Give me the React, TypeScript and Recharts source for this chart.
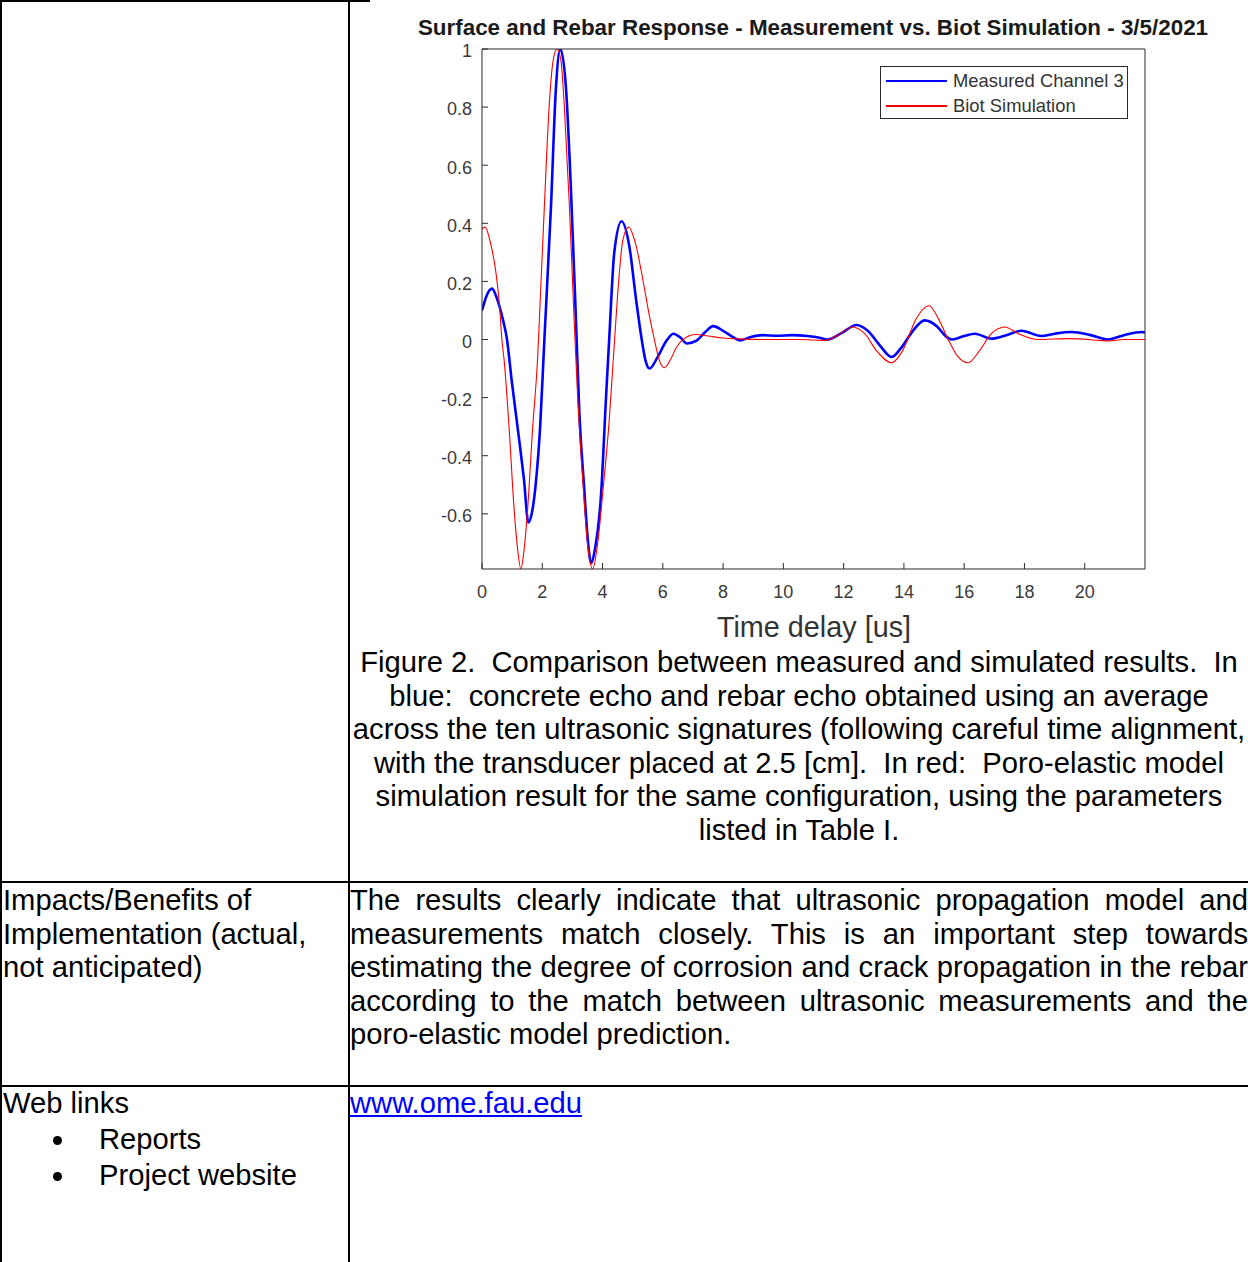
import React from "react";
import { LineChart, Line, XAxis, YAxis, Legend } from "recharts";

// values (time in us, normalised amplitude)
const measuredT = [
  0, 0.15, 0.33, 0.5, 0.69, 0.83, 0.98, 1.26, 1.39, 1.54, 1.65, 1.79, 1.93, 2.07, 2.29, 2.45,
  2.6, 2.79, 2.95, 3.12, 3.23, 3.39, 3.52, 3.62, 3.75, 3.95, 4.12, 4.22, 4.39, 4.63, 4.89, 5.11,
  5.3, 5.42, 5.56, 5.83, 6.1, 6.35, 6.6, 6.8, 7.1, 7.4, 7.67, 8.0, 8.3, 8.56, 8.9, 9.3, 9.8, 10.3,
  10.8, 11.2, 11.45, 11.9, 12.43, 12.8, 13.2, 13.59, 13.9, 14.3, 14.69, 15.1, 15.4, 15.6, 16.0,
  16.35, 16.9, 17.4, 17.9, 18.56, 19.0, 19.56, 20.2, 20.77, 21.3, 21.9, 22,
];
const measuredV = [
  0.1, 0.15, 0.175, 0.14, 0.07, 0.0, -0.137, -0.367, -0.48, -0.63, -0.6, -0.49, -0.3, 0.0, 0.46,
  0.86, 1.0, 0.86, 0.52, 0.06, -0.25, -0.51, -0.7, -0.77, -0.72, -0.535, -0.19, 0.0, 0.3, 0.407,
  0.32, 0.14, 0.0, -0.07, -0.1, -0.06, -0.008, 0.02, 0.005, -0.014, -0.005, 0.025, 0.046, 0.03,
  0.01, -0.003, 0.008, 0.015, 0.013, 0.015, 0.012, 0.006, 0.0, 0.02, 0.05, 0.03, -0.02, -0.06,
  -0.03, 0.03, 0.066, 0.045, 0.01, 0.0, 0.012, 0.02, 0.003, 0.015, 0.03, 0.012, 0.02, 0.026, 0.015,
  0.0, 0.015, 0.026, 0.024,
];

const simT = [
  0, 0.1, 0.3, 0.46, 0.58, 0.66, 0.74, 0.9, 1.07, 1.18, 1.29, 1.4, 1.51, 1.68, 1.85, 1.9, 2.07, 2.23,
  2.36, 2.49, 2.62, 2.73, 2.9, 3.06, 3.17, 3.34, 3.5, 3.67, 3.84, 4.0, 4.22, 4.4, 4.55, 4.67, 4.86,
  5.11, 5.33, 5.55, 5.72, 5.88, 6.05, 6.25, 6.43, 6.71, 7.1, 7.5, 8.0, 8.5, 9.5, 10.5, 11.4, 11.8,
  12.3, 12.7, 13.1, 13.59, 13.95, 14.4, 14.83, 15.2, 15.47, 15.8, 16.13, 16.5, 16.9, 17.35, 17.8,
  18.45, 19.5, 20.5, 20.8, 21.3, 22,
];
const simV = [
  0.38, 0.387, 0.324, 0.232, 0.118, 0.0, -0.077, -0.306, -0.59, -0.72, -0.79, -0.72, -0.59, -0.306,
  -0.054, 0.06, 0.46, 0.805, 0.96, 1.0, 0.96, 0.805, 0.46, 0.06, -0.19, -0.48, -0.7, -0.79, -0.7,
  -0.535, -0.28, 0.0, 0.22, 0.34, 0.387, 0.324, 0.21, 0.084, 0.0, -0.07, -0.097, -0.07, -0.031,
  0.003, 0.017, 0.012, 0.005, 0.002, 0.0, 0.0, -0.003, 0.015, 0.043, 0.02, -0.04, -0.08, -0.04,
  0.07, 0.116, 0.06, 0.0, -0.06, -0.08, -0.04, 0.02, 0.043, 0.02, 0.0, 0.003, -0.003, -0.005, 0.0,
  0.0,
];

const xTicks = [0, 2, 4, 6, 8, 10, 12, 14, 16, 18, 20];
const yTicks = [-0.6, -0.4, -0.2, 0, 0.2, 0.4, 0.6, 0.8, 1];

const seriesNames = ["Measured Channel 3", "Biot Simulation"];
const seriesColors = ["#0000ff", "#ff0000"];

const measured = measuredT.map((t, i) => ({ t, v: measuredV[i] }));
const simulated = simT.map((t, i) => ({ t, v: simV[i] }));

const FONT = '"Liberation Sans", Arial, Helvetica, sans-serif';
const AX = "#2b2b2b";

function LegendBox() {
  return (
    <div
      style={{
        width: 246,
        height: 51,
        border: `1px solid ${AX}`,
        background: "#fff",
        fontFamily: FONT,
        fontSize: 18.4,
        color: "#333",
        position: "relative",
      }}
    >
      {seriesNames.map((n, i) => (
        <div key={n} style={{ position: "absolute", left: 5, top: 3 + i * 25, display: "flex", alignItems: "center", height: 22 }}>
          <div style={{ width: 61, height: 1.5, background: seriesColors[i], marginRight: 6 }} />
          <span style={{ whiteSpace: "nowrap" }}>{n}</span>
        </div>
      ))}
    </div>
  );
}

function Chart() {
  return (
    <div style={{ position: "absolute", left: 400, top: 0, width: 800, height: 650 }}>
      <LineChart width={800} height={650} margin={{ top: 48, right: 54, bottom: 0, left: 0 }}>
        <XAxis
          dataKey="t"
          type="number"
          domain={[0, 22]}
          ticks={xTicks}
          allowDataOverflow
          height={81}
          tickSize={-6}
          tickMargin={22}
          stroke={AX}
          tick={{ fill: "#3a3a3a", fontSize: 18, fontFamily: FONT }}
        />
        <XAxis
          xAxisId="top"
          orientation="top"
          dataKey="t"
          type="number"
          domain={[0, 22]}
          ticks={xTicks}
          allowDataOverflow
          height={1}
          tickSize={-6}
          tick={false}
          stroke={AX}
        />
        <YAxis
          type="number"
          domain={[-0.79, 1]}
          ticks={yTicks}
          allowDataOverflow
          width={82}
          tickSize={-6}
          tickMargin={16}
          stroke={AX}
          tick={{ fill: "#3a3a3a", fontSize: 18, fontFamily: FONT, dy: 2 }}
        />
        <YAxis
          yAxisId="right"
          orientation="right"
          type="number"
          domain={[-0.79, 1]}
          ticks={yTicks}
          allowDataOverflow
          width={1}
          tickSize={-6}
          tick={false}
          stroke={AX}
        />
        <Legend
          layout="horizontal"
          verticalAlign="middle"
          align="center"
          content={() => <LegendBox />}
          wrapperStyle={{ position: "absolute", left: 480, top: 66, width: 248, height: 53 }}
        />
        <Line
          data={measured}
          dataKey="v"
          name={seriesNames[0]}
          type="monotone"
          stroke={seriesColors[0]}
          strokeWidth={2.6}
          dot={false}
          isAnimationActive={false}
        />
        <Line
          data={simulated}
          dataKey="v"
          name={seriesNames[1]}
          type="monotone"
          stroke={seriesColors[1]}
          strokeWidth={1.1}
          dot={false}
          isAnimationActive={false}
        />
        {/* carries the mirrored top/right axes of the box */}
        <Line
          data={simulated}
          dataKey="v"
          xAxisId="top"
          yAxisId="right"
          stroke="none"
          dot={false}
          legendType="none"
          isAnimationActive={false}
        />
      </LineChart>
      <div
        style={{
          position: "absolute",
          left: 13,
          width: 800,
          top: 15,
          textAlign: "center",
          fontFamily: FONT,
          fontWeight: "bold",
          fontSize: 22.4,
          color: "#1a1a1a",
          whiteSpace: "nowrap",
        }}
      >
        Surface and Rebar Response - Measurement vs. Biot Simulation - 3/5/2021
      </div>
      <div
        style={{
          position: "absolute",
          left: 14,
          width: 800,
          top: 611,
          textAlign: "center",
          fontFamily: FONT,
          fontSize: 28.8,
          color: "#333",
          whiteSpace: "nowrap",
        }}
      >
        Time delay [us]
      </div>
    </div>
  );
}

const captionLines = [
  "Figure 2.  Comparison between measured and simulated results.  In",
  "blue:  concrete echo and rebar echo obtained using an average",
  "across the ten ultrasonic signatures (following careful time alignment,",
  "with the transducer placed at 2.5 [cm].  In red:  Poro-elastic model",
  "simulation result for the same configuration, using the parameters",
  "listed in Table I.",
];

const impactLabel = ["Impacts/Benefits of", "Implementation (actual,", "not anticipated)"];
const impactLines = [
  "The results clearly indicate that ultrasonic propagation model and",
  "measurements match closely.  This is an important step towards",
  "estimating the degree of corrosion and crack propagation in the rebar",
  "according to the match between ultrasonic measurements and the",
  "poro-elastic model prediction.",
];

const txt: React.CSSProperties = {
  fontFamily: FONT,
  fontSize: 29.2,
  lineHeight: "33.6px",
  color: "#000",
};

export default function App() {
  return (
    <div style={{ position: "relative", width: 1248, height: 1262, background: "#fff", overflow: "hidden" }}>
      <style>{"html,body{margin:0;padding:0;}"}</style>
      {/* table rules */}
      <div style={{ position: "absolute", left: 0, top: 0, width: 370, height: 2, background: "#000" }} />
      <div style={{ position: "absolute", left: 0, top: 0, width: 2, height: 1262, background: "#000" }} />
      <div style={{ position: "absolute", left: 348, top: 0, width: 2, height: 1262, background: "#000" }} />
      <div style={{ position: "absolute", left: 0, top: 881, width: 1248, height: 2, background: "#000" }} />
      <div style={{ position: "absolute", left: 0, top: 1085, width: 1248, height: 2, background: "#000" }} />

      <Chart />

      <div style={{ ...txt, position: "absolute", left: 350, top: 646, width: 898, textAlign: "center", whiteSpace: "pre" }}>
        {captionLines.map((l) => (
          <div key={l}>{l}</div>
        ))}
      </div>

      <div style={{ ...txt, position: "absolute", left: 3, top: 884, width: 345 }}>
        {impactLabel.map((l) => (
          <div key={l} style={{ whiteSpace: "nowrap" }}>{l}</div>
        ))}
      </div>
      <div style={{ ...txt, position: "absolute", left: 350, top: 884, width: 898 }}>
        {impactLines.map((l, i) => (
          <div
            key={l}
            style={{
              textAlign: "justify",
              textAlignLast: i < impactLines.length - 1 ? "justify" : "left",
            }}
          >
            {l}
          </div>
        ))}
      </div>

      <div style={{ ...txt, position: "absolute", left: 3, top: 1087 }}>Web links</div>
      {["Reports", "Project website"].map((l, i) => (
        <div key={l}>
          <div
            style={{
              position: "absolute",
              left: 53,
              top: 1136 + i * 36,
              width: 9,
              height: 9,
              borderRadius: "50%",
              background: "#000",
            }}
          />
          <div style={{ ...txt, position: "absolute", left: 99, top: 1123 + i * 36, whiteSpace: "nowrap" }}>{l}</div>
        </div>
      ))}
      <div style={{ ...txt, position: "absolute", left: 350, top: 1087, color: "#0000ff", textDecoration: "underline" }}>
        www.ome.fau.edu
      </div>
    </div>
  );
}
